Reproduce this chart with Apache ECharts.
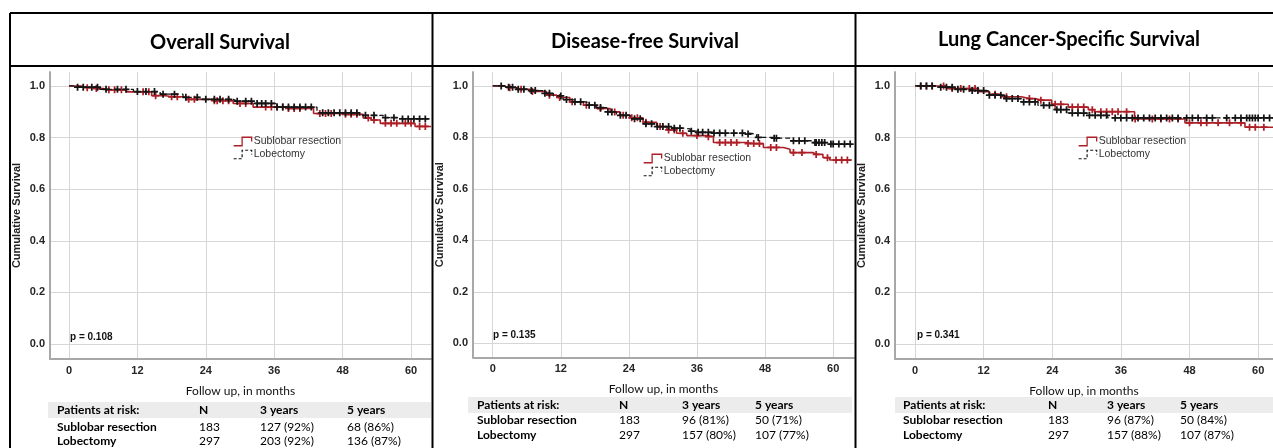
<!DOCTYPE html>
<html><head><meta charset="utf-8">
<script src="https://cdn.jsdelivr.net/npm/echarts@6/dist/echarts.min.js"></script>
<style>html,body{margin:0;padding:0;background:#fff}#c{width:1273px;height:448px}</style>
</head><body><div id="c"></div>
<script>
// ---------------- data ----------------
const monthTicks = [0, 12, 24, 36, 48, 60];
const survTicks = [0, 0.2, 0.4, 0.6, 0.8, 1.0];
const panelTitles = ['Overall Survival', 'Disease-free Survival', 'Lung Cancer-Specific Survival'];
const pValues = ['p = 0.108', 'p = 0.135', 'p = 0.341'];
const seriesNames = ['Sublobar resection', 'Lobectomy'];
const xAxisName = 'Follow up, in months';
const yAxisName = 'Cumulative Survival';
const riskHeader = ['Patients at risk:', 'N', '3 years', '5 years'];
const osRisk = [['Sublobar resection', '183', '127 (92%)', '68 (86%)'], ['Lobectomy', '297', '203 (92%)', '136 (87%)']];
const dfsRisk = [['Sublobar resection', '183', '96 (81%)', '50 (71%)'], ['Lobectomy', '297', '157 (80%)', '107 (77%)']];
const lcssRisk = [['Sublobar resection', '183', '96 (87%)', '50 (84%)'], ['Lobectomy', '297', '157 (88%)', '107 (87%)']];

// Overall survival
const osSubTimes = [2.2, 4.5, 6.0, 10.1, 14.5, 17, 20.6, 25, 28.8, 32.3, 38, 42.9, 47, 51.6, 53, 54.6, 60.7];
const osSubSurv = [0.993, 0.99, 0.985, 0.977, 0.962, 0.958, 0.948, 0.943, 0.932, 0.918, 0.913, 0.893, 0.89, 0.876, 0.868, 0.855, 0.843];
const osSubCensor = [3.2, 4.8, 7, 8, 9.2, 13, 14, 15.2, 18, 19, 21, 22, 25.5, 26, 27, 28, 30, 31, 34.5, 35.5, 36.5, 37.5, 38.5, 39.5, 40.5, 44, 45, 46, 48.5, 49.5, 50.5, 52.5, 53.5, 55.5, 56.5, 57.5, 59, 60, 61.5, 62.5];
const osLobTimes = [1.3, 5.4, 11.3, 16, 20, 23, 28.8, 32.3, 36.4, 43.5, 51, 55.1, 58];
const osLobSurv = [0.995, 0.987, 0.978, 0.968, 0.956, 0.948, 0.941, 0.932, 0.918, 0.896, 0.886, 0.877, 0.872];
const osLobCensor = [1.5, 2.5, 4, 5, 6.5, 8.5, 10, 12, 13.5, 15, 16.5, 18.5, 20.5, 22.5, 24, 25.5, 26.5, 28, 29.5, 31, 32, 33, 33.8, 34.5, 35.5, 36.5, 37.5, 38.5, 39.5, 40.5, 41.5, 42.5, 44.5, 45.5, 46.5, 47.5, 48.5, 49.5, 50.5, 52, 53.5, 55.5, 57, 58.5, 59.5, 60.5, 61.5, 62.5];

// Disease-free survival
const dfsSubTimes = [1.9, 4.2, 6.6, 9.5, 11.3, 13.6, 16.0, 18.3, 20.7, 22.4, 24.2, 26.5, 28.9, 30.7, 32.4, 34.2, 37.7, 38.9, 44.7, 47.7, 51.2, 52.4, 56.5, 58.2, 59.4];
const dfsSubSurv = [0.993, 0.987, 0.978, 0.964, 0.955, 0.938, 0.925, 0.912, 0.899, 0.886, 0.876, 0.859, 0.842, 0.829, 0.816, 0.807, 0.803, 0.78, 0.776, 0.761, 0.754, 0.741, 0.734, 0.721, 0.712];
const dfsSubCensor = [3, 5, 7, 10, 11.8, 14, 16.5, 19, 21.5, 23, 24.5, 25.5, 27, 29.5, 31, 32, 33.5, 36, 38, 40, 41, 42, 43, 45, 46, 47, 49, 50, 53, 54.5, 57, 59, 60.5, 61.5, 62.5];
const dfsLobTimes = [2.5, 4.2, 6.6, 9.0, 10.7, 12.4, 14.2, 16.6, 18.3, 20.1, 21.8, 24.2, 26.5, 28.9, 31.2, 33.6, 34.8, 36.0, 38.9, 44.7, 46.5, 49.4, 52.4, 56.5, 59.4];
const dfsLobSurv = [0.995, 0.987, 0.982, 0.971, 0.961, 0.947, 0.938, 0.925, 0.916, 0.899, 0.886, 0.872, 0.853, 0.842, 0.836, 0.833, 0.824, 0.82, 0.817, 0.813, 0.8, 0.797, 0.787, 0.78, 0.774];
const dfsLobCensor = [1.5, 2.8, 3.5, 4.5, 5.5, 6.8, 7.5, 9.2, 10, 12, 13, 14.5, 15.5, 17, 18, 19, 20.3, 21, 22.5, 23.5, 25, 26, 27, 28, 29, 30, 31, 32, 33, 35, 36.2, 37, 38, 39, 40, 41, 42.5, 44, 45, 46.8, 49.6, 50, 53, 54, 55, 56.8, 57, 57.5, 58, 58.5, 59.6, 60, 61, 62, 63];

// Lung cancer-specific survival
const lcssSubTimes = [5.5, 11.1, 13, 15.1, 18.6, 21, 23.9, 26.8, 30.3, 31.4, 38.4, 47.2, 57.7];
const lcssSubSurv = [0.99, 0.978, 0.968, 0.958, 0.951, 0.945, 0.929, 0.918, 0.908, 0.9, 0.872, 0.857, 0.84];
const lcssSubCensor = [1, 2, 3, 5, 6.5, 8, 9.5, 10.5, 14, 16, 20, 22, 24.5, 25.5, 27.5, 28.5, 29.5, 31, 32.5, 33.5, 34.5, 35.5, 37, 38.5, 41.5, 43, 44.5, 46, 48, 50, 51, 53, 55, 57, 58.5, 59.5, 61];
const lcssLobTimes = [4.1, 7.0, 9.9, 12.8, 15.7, 18.6, 21.5, 24.5, 26.8, 30.3, 33.8];
const lcssLobSurv = [0.995, 0.987, 0.982, 0.964, 0.951, 0.938, 0.925, 0.908, 0.895, 0.886, 0.876];
const lcssLobCensor = [1, 2, 3, 4.5, 5.5, 6.5, 7.5, 8.5, 10, 11, 12, 13, 14, 15, 16, 17, 18, 19, 20, 21, 22.5, 23.5, 24.8, 25.5, 26.5, 27.5, 28.5, 29.5, 30.5, 31.5, 32.5, 33.5, 35, 36, 37, 38, 39, 40, 41, 42, 43, 44, 45, 46, 47.5, 48.5, 49.5, 51, 52, 54.5, 56, 57, 58, 58.5, 59, 59.5, 60, 61, 62];

const curves = [
  [[osSubTimes, osSubSurv, osSubCensor, 63.5], [osLobTimes, osLobSurv, osLobCensor, 63.5]],
  [[dfsSubTimes, dfsSubSurv, dfsSubCensor, 63.3], [dfsLobTimes, dfsLobSurv, dfsLobCensor, 63.3]],
  [[lcssSubTimes, lcssSubSurv, lcssSubCensor, 62.6], [lcssLobTimes, lcssLobSurv, lcssLobCensor, 62.6]]
];
const riskTables = [osRisk, dfsRisk, lcssRisk];

// ---------------- layout / style ----------------
const RED = '#ad1f27', BLACK = '#151515';
const PLUS = 'path://M3,0H5V8H3ZM0,3H8V5H0Z';
const STEP_ICON = 'path://M0,9H8V1H17V5';
const panels = [
  {grid: {left: 50, top: 72, width: 381, height: 287}, x: [-3.33, 63.5], y: [-0.058, 1.054],
   legend: {left: 233, top: 136}, title: [220, 43], p: [70, 337],
   cols: [57, 199, 260, 347], rows: [410, 427, 441], band: [48, 431]},
  {grid: {left: 473, top: 72, width: 381, height: 285.3}, x: [-3.47, 63.67], y: [-0.054, 1.054],
   legend: {left: 643, top: 153}, title: [645, 42], p: [493, 335],
   cols: [477, 619, 682, 755], rows: [405, 420, 435], band: [468, 852]},
  {grid: {left: 895, top: 72, width: 378, height: 287}, x: [-3.5, 62.6], y: [-0.058, 1.054],
   legend: {left: 1078, top: 136}, title: [1069, 40], p: [917, 335],
   cols: [903, 1048, 1107, 1180], rows: [405, 420, 435], band: [895, 1273]}
];

function buildCurve(times, surv, censor, endT) {
  const pts = [{value: [0, 1], symbol: 'none'}];
  times.forEach((t, i) => pts.push({value: [t, surv[i]], symbol: 'none'}));
  censor.forEach(c => {
    let s = 1;
    for (let i = 0; i < times.length; i++) if (times[i] <= c) s = surv[i];
    pts.push({value: [c, s], symbol: PLUS, symbolSize: 7});
  });
  pts.push({value: [endT, surv[surv.length - 1]], symbol: 'none'});
  pts.sort((a, b) => a.value[0] - b.value[0]);
  return pts;
}

const grids = [], xAxes = [], yAxes = [], series = [], legends = [], graphics = [];
const axisFont = {fontFamily: 'Liberation Sans', fontSize: 11, fontWeight: 'bold', color: '#262626'};

panels.forEach((p, k) => {
  grids.push(Object.assign({containLabel: false}, p.grid));
  xAxes.push({
    type: 'value', gridIndex: k, min: p.x[0], max: p.x[1],
    name: xAxisName, nameLocation: 'middle', nameGap: 26,
    nameTextStyle: {fontFamily: 'Lato', fontSize: 12, color: '#111'},
    axisLine: {show: true, onZero: false, lineStyle: {color: '#a8a8a8', width: 2}},
    axisTick: {show: false, customValues: monthTicks},
    axisLabel: {customValues: monthTicks, margin: 6, ...axisFont},
    splitLine: {show: true, lineStyle: {color: '#d6d6d6', width: 1}}
  });
  yAxes.push({
    type: 'value', gridIndex: k, min: p.y[0], max: p.y[1],
    name: yAxisName, nameLocation: 'middle', nameGap: 28, nameRotate: 90,
    nameTextStyle: {fontFamily: 'Liberation Sans', fontSize: 11, fontWeight: 'bold', color: '#222'},
    axisLine: {show: true, onZero: false, lineStyle: {color: '#a8a8a8', width: 2}},
    axisTick: {show: false, customValues: survTicks},
    axisLabel: {customValues: survTicks, margin: 5, formatter: v => v.toFixed(1), ...axisFont},
    splitLine: {show: true, lineStyle: {color: '#d6d6d6', width: 1}}
  });
  curves[k].forEach((c, j) => {
    const color = j === 0 ? RED : BLACK;
    series.push({
      type: 'line', name: seriesNames[j], xAxisIndex: k, yAxisIndex: k, step: 'end',
      data: buildCurve(c[0], c[1], c[2], c[3]), symbol: 'none', showAllSymbol: true,
      lineStyle: {color, width: j === 0 ? 1.6 : 1.3, type: j === 0 ? 'solid' : [5, 3]},
      itemStyle: {color}, emphasis: {disabled: true}, animation: false, z: 2 + j, clip: true
    });
  });
  legends.push({
    left: p.legend.left, top: p.legend.top, orient: 'vertical', padding: 0, itemGap: 2,
    itemWidth: 18, itemHeight: 9, selectedMode: false,
    textStyle: {fontFamily: 'Liberation Sans', fontSize: 10.5, color: '#333', padding: [0, 0, 0, -3]},
    data: [
      {name: seriesNames[0], icon: STEP_ICON, itemStyle: {color: 'rgba(0,0,0,0)', borderColor: RED, borderWidth: 1.3}},
      {name: seriesNames[1], icon: STEP_ICON, itemStyle: {color: 'rgba(0,0,0,0)', borderColor: BLACK, borderWidth: 1.2, borderType: [3, 2]}}
    ]
  });
  graphics.push({type: 'text', x: p.title[0], y: p.title[1], silent: true,
    style: {text: panelTitles[k], font: 'bold 20px Lato', fill: '#000', align: 'center', verticalAlign: 'middle'}});
  graphics.push({type: 'text', x: p.p[0], y: p.p[1], silent: true,
    style: {text: pValues[k], font: 'bold 10px "Liberation Sans"', fill: '#111', align: 'left', verticalAlign: 'middle'}});
  graphics.push({type: 'rect', silent: true, z: -1,
    shape: {x: p.band[0], y: p.rows[0] - 8, width: p.band[1] - p.band[0], height: 16}, style: {fill: '#ececec'}});
  const rowsText = [riskHeader].concat(riskTables[k]);
  rowsText.forEach((row, r) => {
    row.forEach((cell, ci) => {
      const bold = r === 0 || ci === 0;
      graphics.push({type: 'text', x: p.cols[ci], y: p.rows[r], silent: true,
        style: {text: cell, font: (bold ? 'bold ' : '') + '12px Lato', fill: '#000', align: 'left', verticalAlign: 'middle'}});
    });
  });
});

const frame = [
  [10, 13, 1273, 13], [10, 66, 1273, 66],
  [10, 13, 10, 448], [432.5, 13, 432.5, 448], [855.5, 13, 855.5, 448]
];
frame.forEach(f => graphics.push({type: 'line', silent: true, z: 10,
  shape: {x1: f[0], y1: f[1], x2: f[2], y2: f[3]}, style: {stroke: '#000', lineWidth: 2}}));

const chart = echarts.init(document.getElementById('c'));
chart.setOption({
  animation: false, backgroundColor: '#fff',
  grid: grids, xAxis: xAxes, yAxis: yAxes, series, legend: legends, graphic: graphics
});
</script></body></html>
